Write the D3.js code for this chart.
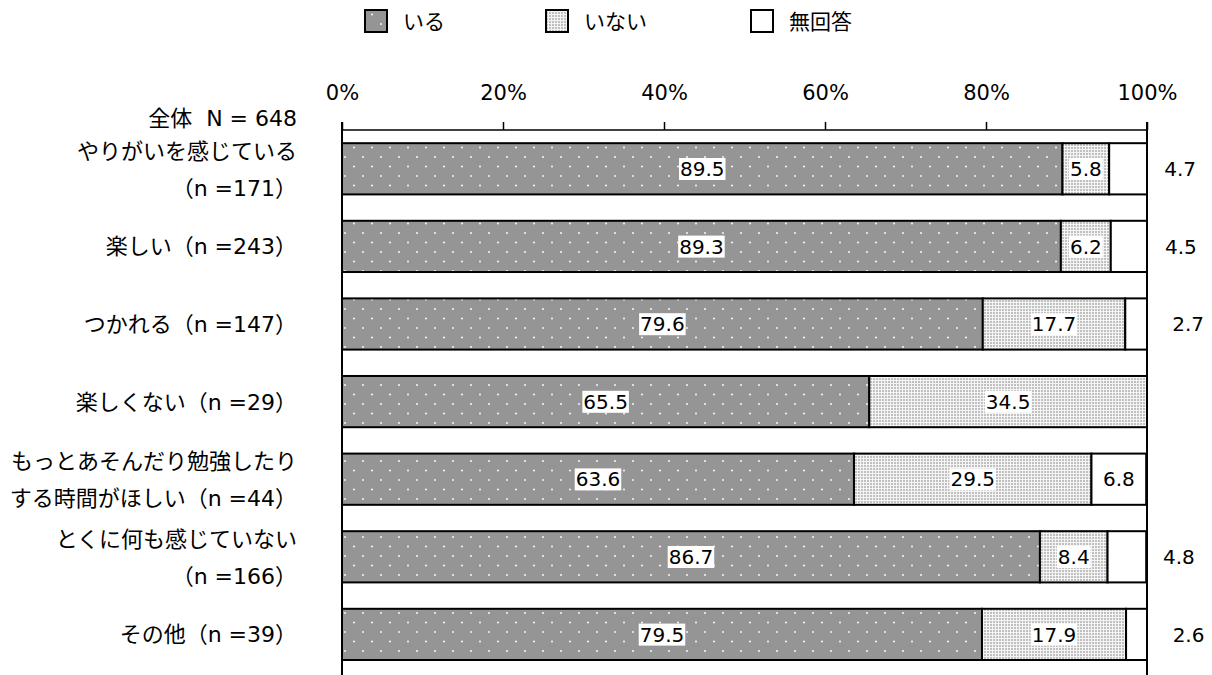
<!DOCTYPE html>
<html>
<head>
<meta charset="utf-8">
<script src="https://cdn.jsdelivr.net/npm/d3@7"></script>
<style>
  body { margin: 0; background: #fff; }
  svg { display: block; font-family: "DejaVu Sans", "Noto Sans CJK JP", sans-serif; }
</style>
</head>
<body>
<div id="chart"></div>
<script>
// categories (label lines) and series values
const categories = [
  ["やりがいを感じている", "（n =171）"],
  ["楽しい（n =243）"],
  ["つかれる（n =147）"],
  ["楽しくない（n =29）"],
  ["もっとあそんだり勉強したり", "する時間がほしい（n =44）"],
  ["とくに何も感じていない", "（n =166）"],
  ["その他（n =39）"]
];
const iru    = [89.5, 89.3, 79.6, 65.5, 63.6, 86.7, 79.5];
const inai   = [5.8, 6.2, 17.7, 34.5, 29.5, 8.4, 17.9];
const mukaitou = [4.7, 4.5, 2.7, 0, 6.8, 4.8, 2.6];
const seriesNames = ["いる", "いない", "無回答"];
const ticks = [0, 20, 40, 60, 80, 100];
const totalLabel = "全体  N = 648";

const W = 1212, H = 675;
const svg = d3.select('#chart').append('svg')
  .attr('width', W).attr('height', H);

// patterns
const defs = svg.append('defs');
const p1 = defs.append('pattern').attr('id', 'pIru')
  .attr('patternUnits', 'userSpaceOnUse').attr('width', 18).attr('height', 19);
p1.append('rect').attr('width', 18).attr('height', 19).attr('fill', '#959595');
p1.append('circle').attr('cx', 3).attr('cy', 5).attr('r', 1.1).attr('fill', '#f0f0f0');
p1.append('circle').attr('cx', 12).attr('cy', 14.5).attr('r', 1.1).attr('fill', '#f0f0f0');

const p2 = defs.append('pattern').attr('id', 'pInai')
  .attr('patternUnits', 'userSpaceOnUse').attr('width', 3).attr('height', 3);
p2.append('rect').attr('width', 3).attr('height', 3).attr('fill', '#f4f4f4');
p2.append('rect').attr('width', 2).attr('height', 2).attr('fill', '#c0c0c0');

const fills = ['url(#pIru)', 'url(#pInai)', '#fff'];

const x0 = 342, x1 = 1147, topY = 130;
const x = d3.scaleLinear().domain([0, 100]).range([x0, x1]);
const y = d3.scaleBand().domain(d3.range(categories.length))
  .range([topY, topY + 7 * 77.6]).paddingInner(0.34).paddingOuter(0.17);

// frame / axis
const axis = d3.axisTop(x).tickValues(ticks).tickSize(8).tickFormat(d => d + '%');
const gAxis = svg.append('g').attr('transform', `translate(0,${topY})`).call(axis);
gAxis.select('.domain').remove();
gAxis.selectAll('.tick line').attr('stroke', '#000').attr('stroke-width', 1.5);
gAxis.selectAll('.tick text').attr('y', -30).attr('font-size', 21).attr('fill', '#000')
  .attr('font-family', '"DejaVu Sans", sans-serif');

svg.append('line').attr('x1', x0).attr('x2', x1).attr('y1', topY).attr('y2', topY)
  .attr('stroke', '#000').attr('stroke-width', 1.5);
svg.append('line').attr('x1', x0).attr('x2', x0).attr('y1', topY - 8).attr('y2', H)
  .attr('stroke', '#000').attr('stroke-width', 2);
svg.append('line').attr('x1', x1).attr('x2', x1).attr('y1', topY - 8).attr('y2', H)
  .attr('stroke', '#000').attr('stroke-width', 2);

// stacked data
const rows = categories.map((c, i) => {
  const vals = [iru[i], inai[i], mukaitou[i]];
  let acc = 0;
  return vals.map((v, k) => { const s = acc; acc += v; return {row: i, k, v, s, e: acc}; });
});

const gBars = svg.append('g');
rows.forEach(segs => {
  segs.forEach(d => {
    if (d.v <= 0) return;
    gBars.append('rect')
      .attr('x', x(d.s)).attr('y', y(d.row))
      .attr('width', x(d.e) - x(d.s)).attr('height', y.bandwidth())
      .attr('fill', fills[d.k]).attr('stroke', '#000').attr('stroke-width', 2);
  });
});

// value labels
const gLab = svg.append('g').attr('font-size', 20)
  .attr('font-family', '"DejaVu Sans", sans-serif');
rows.forEach(segs => {
  segs.forEach(d => {
    if (d.v <= 0) return;
    const cy = y(d.row) + y.bandwidth() / 2;
    let cx = (x(d.s) + x(d.e)) / 2;
    const outside = d.k === 2 && d.v < 6;
    if (outside) cx += 52;
    const t = gLab.append('text').attr('x', cx).attr('y', cy).attr('dy', '0.36em')
      .attr('text-anchor', 'middle').text(d.v.toFixed(1));
    if (d.k < 2) {
      const b = t.node().getBBox();
      gLab.insert('rect', function() { return t.node(); })
        .attr('x', b.x - 1).attr('y', b.y + 1).attr('width', b.width + 2).attr('height', b.height - 2)
        .attr('fill', '#fff');
    }
  });
});

// category labels
const gCat = svg.append('g').attr('font-size', 22).attr('text-anchor', 'end');
gCat.append('text').attr('x', 297).attr('y', topY - 12).attr('dy', '0.36em')
  .style('white-space', 'pre').text(totalLabel);
categories.forEach((lines, i) => {
  const cy = y(i) + y.bandwidth() / 2;
  lines.forEach((ln, j) => {
    const off = lines.length === 1 ? 0 : (j === 0 ? -18 : 19);
    gCat.append('text').attr('x', 297).attr('y', cy + off).attr('dy', '0.36em').text(ln);
  });
});

// legend
const legX = [365, 546, 751];
const gLeg = svg.append('g');
seriesNames.forEach((n, k) => {
  gLeg.append('rect').attr('x', legX[k]).attr('y', 10).attr('width', 22).attr('height', 22)
    .attr('fill', fills[k]).attr('stroke', '#000').attr('stroke-width', 2);
  gLeg.append('text').attr('x', legX[k] + 38).attr('y', 21).attr('dy', '0.36em')
    .attr('font-size', 21).text(n);
});
</script>
</body>
</html>
